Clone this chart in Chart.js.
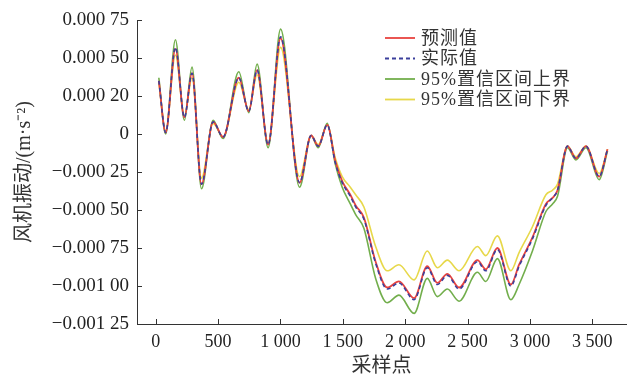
<!DOCTYPE html>
<html>
<head>
<meta charset="utf-8">
<script src="https://cdn.jsdelivr.net/npm/chart.js@4"></script>
<style>
  html, body { margin: 0; padding: 0; background: #fff; }
  #wrap { width: 640px; height: 379px; }
</style>
</head>
<body>
<div id="wrap"><canvas id="chart" width="640" height="379"></canvas></div>
<script>
// sample positions (x) shared by all series
const samples = [25, 80, 158, 230, 291, 367, 460, 540, 666, 746, 813, 901, 1001, 1153, 1246, 1303, 1375,
  1440, 1495, 1560, 1603, 1669, 1763, 1856, 1950, 2071, 2177, 2258, 2338, 2432, 2579, 2646, 2739, 2847,
  2913, 3020, 3128, 3181, 3221, 3301, 3368, 3449, 3555, 3622];

const predicted = [0.00035, 0.00001, 0.00056, 0.00011, 0.00040, -0.00033, 0.00008, -0.00002, 0.00037, 0.00015,
  0.00042, -0.00007, 0.00063, -0.00032, -0.00001, -0.00008, 0.00006,
  -0.00018, -0.00031, -0.00040, -0.00047, -0.00055, -0.00084, -0.00101, -0.00097, -0.00108, -0.00087, -0.00098,
  -0.00092, -0.00101, -0.00083, -0.00089, -0.00075, -0.00099,
  -0.00086, -0.00068, -0.00046, -0.00042, -0.00037, -0.00008, -0.00016, -0.00008, -0.00028, -0.00010];

const actual = [0.00035, 0.00001, 0.00057, 0.00011, 0.00040, -0.00033, 0.00008, -0.00002, 0.00037, 0.00015,
  0.00042, -0.00007, 0.00064, -0.00032, -0.00001, -0.00008, 0.00006,
  -0.00019, -0.00032, -0.00041, -0.00048, -0.00056, -0.00085, -0.00102, -0.00098, -0.00109, -0.00088, -0.00099,
  -0.00093, -0.00102, -0.00084, -0.00090, -0.00076, -0.00100,
  -0.00087, -0.00069, -0.00047, -0.00042, -0.00037, -0.00008, -0.00016, -0.00008, -0.00028, -0.00010];

const upperBound = [0.00037, 0.00000, 0.00062, 0.00009, 0.00044, -0.00036, 0.00009, -0.00003, 0.00041, 0.00014,
  0.00046, -0.00009, 0.00069, -0.00035, -0.00001, -0.00009, 0.00007,
  -0.00020, -0.00035, -0.00046, -0.00053, -0.00062, -0.00095, -0.00111, -0.00106, -0.00118, -0.00095, -0.00107,
  -0.00102, -0.00110, -0.00091, -0.00097, -0.00082, -0.00109,
  -0.00099, -0.00077, -0.00051, -0.00046, -0.00041, -0.00009, -0.00017, -0.00009, -0.00030, -0.00011];

const lowerBound = [0.00034, 0.00002, 0.00052, 0.00012, 0.00037, -0.00029, 0.00007, -0.00002, 0.00034, 0.00016,
  0.00039, -0.00006, 0.00057, -0.00028, -0.00001, -0.00007, 0.00006,
  -0.00016, -0.00028, -0.00035, -0.00040, -0.00048, -0.00074, -0.00090, -0.00086, -0.00096, -0.00077, -0.00088,
  -0.00083, -0.00090, -0.00074, -0.00080, -0.00067, -0.00090,
  -0.00078, -0.00061, -0.00040, -0.00037, -0.00033, -0.00008, -0.00015, -0.00008, -0.00026, -0.00010];

const xTicks = [0, 500, 1000, 1500, 2000, 2500, 3000, 3500];
// printed labels, top to bottom (as in the figure)
const yTickLabels = ['0.000 75', '0.000 50', '0.000 20', '0', '\u22120.000 25', '\u22120.000 50',
  '\u22120.000 75', '\u22120.001 00', '\u22120.001 25'];
const seriesNames = ['预测值', '实际值', '95%置信区间上界', '95%置信区间下界'];

const FONT = '"Liberation Serif", "Noto Sans CJK SC", serif';

function pts(values) {
  return samples.map((s, i) => ({ x: s, y: values[i] }));
}

function fmtX(v) {
  return v >= 1000 ? Math.floor(v / 1000) + ' ' + String(v % 1000).padStart(3, '0') : String(v);
}

// small inward ticks on both axes
const innerTicks = {
  id: 'innerTicks',
  afterDatasetsDraw(chart) {
    const { ctx, chartArea: a, scales: { x, y } } = chart;
    ctx.save();
    ctx.strokeStyle = '#333';
    ctx.lineWidth = 1;
    ctx.beginPath();
    x.ticks.forEach(t => {
      const px = Math.round(x.getPixelForValue(t.value)) + 0.5;
      ctx.moveTo(px, a.bottom);
      ctx.lineTo(px, a.bottom - 5);
    });
    y.ticks.forEach(t => {
      const py = Math.round(y.getPixelForValue(t.value)) + 0.5;
      ctx.moveTo(a.left, py);
      ctx.lineTo(a.left + 5, py);
    });
    ctx.stroke();
    ctx.restore();
  }
};

// legend in the upper right corner of the plot
const cornerLegend = {
  id: 'cornerLegend',
  afterDraw(chart) {
    const ctx = chart.ctx;
    ctx.save();
    ctx.font = '18px ' + FONT;
    ctx.textBaseline = 'middle';
    ctx.letterSpacing = '1px';
    chart.data.datasets.forEach((ds, i) => {
      const y = 38 + i * 20.5;
      ctx.strokeStyle = ds.borderColor;
      ctx.lineWidth = 1.8;
      ctx.setLineDash(ds.borderDash || []);
      ctx.beginPath();
      ctx.moveTo(385, y);
      ctx.lineTo(415, y);
      ctx.stroke();
      ctx.fillStyle = '#333';
      ctx.fillText(ds.label, 421, y + 1);
    });
    ctx.restore();
  }
};

new Chart(document.getElementById('chart'), {
  type: 'line',
  data: {
    datasets: [
      { label: seriesNames[0], data: pts(predicted), borderColor: '#e8433f', borderWidth: 1.8, order: 1 },
      { label: seriesNames[1], data: pts(actual), borderColor: '#3b3f9c', borderWidth: 1.6, borderDash: [4, 3], order: 0 },
      { label: seriesNames[2], data: pts(upperBound), borderColor: '#72ae4c', borderWidth: 1.6, order: 2 },
      { label: seriesNames[3], data: pts(lowerBound), borderColor: '#e7d84a', borderWidth: 1.6, order: 3 }
    ]
  },
  options: {
    responsive: false,
    animation: false,
    layout: { padding: { left: 0, top: 20, right: 14, bottom: 0 } },
    elements: {
      point: { radius: 0 },
      line: { cubicInterpolationMode: 'monotone', fill: false }
    },
    plugins: { legend: { display: false }, tooltip: { enabled: false } },
    scales: {
      x: {
        type: 'linear',
        min: -150,
        max: 3770,
        afterBuildTicks: s => { s.ticks = xTicks.map(v => ({ value: v })); },
        afterFit: s => { s.height = 55; },
        grid: { drawOnChartArea: false, drawTicks: false },
        border: { color: '#333', width: 1 },
        ticks: { padding: 7, color: '#222', maxRotation: 0, autoSkip: false, font: { family: FONT, size: 18 }, callback: v => fmtX(v) },
        title: { display: true, text: '采样点', color: '#333', font: { family: FONT, size: 20 }, padding: { top: 0, bottom: 0 } }
      },
      y: {
        min: -0.00125,
        max: 0.00075,
        afterFit: s => { s.width = 137; },
        grid: { drawOnChartArea: false, drawTicks: false },
        border: { color: '#333', width: 1 },
        ticks: {
          stepSize: 0.00025,
          padding: 8,
          color: '#222',
          font: { family: FONT, size: 19 },
          callback: v => yTickLabels[Math.round((0.00075 - v) / 0.00025)]
        },
        title: { display: true, text: '风机振动/(m·s\u207B\u00B2)', color: '#333', font: { family: FONT, size: 20 }, padding: { top: 13, bottom: 0 } }
      }
    }
  },
  plugins: [innerTicks, cornerLegend]
});
</script>
</body>
</html>
